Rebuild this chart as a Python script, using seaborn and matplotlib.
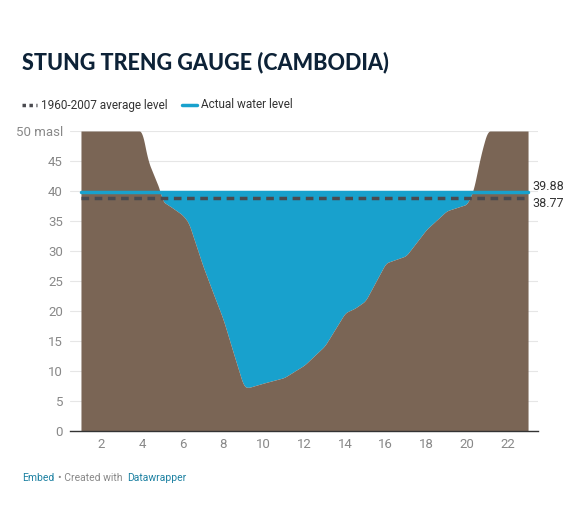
import matplotlib
matplotlib.use("Agg")
import matplotlib.pyplot as plt
import seaborn as sns
import numpy as np
import pandas as pd

distance = [1, 4.0, 4.3, 4.9, 5.0, 5.5, 6.0, 6.3, 7.0, 7.5, 8.0, 8.5, 9.0, 9.2, 10, 11, 12, 13, 14, 14.5, 15, 16, 17, 18, 19, 20, 20.3, 20.7, 21, 23]
bed_level = [50, 50, 45, 40, 38.3, 37.2, 36, 34.7, 27.5, 23, 18.6, 13, 7.5, 7.2, 8, 8.9, 11, 14.2, 19.7, 20.5, 21.7, 28, 29.2, 33.6, 36.7, 37.8, 40, 46.4, 50, 50]
actual_level = 39.88
average_level = 38.77

sns.set_theme(style="white")
plt.rcParams['font.family'] = ['Roboto', 'DejaVu Sans']

fig = plt.figure(figsize=(5.88, 5.18), dpi=100)
ax = fig.add_axes([70/588, (518-431)/518, (538-70)/588, 300/518])

x = np.linspace(1, 23, 600)
bed = np.interp(x, distance, bed_level)
k = 7
pad = np.pad(bed, k // 2, mode='edge')
bed = np.convolve(pad, np.ones(k) / k, mode='valid')

for yv in range(0, 51, 5):
    ax.axhline(yv, color='#e6e6e6', lw=0.8, zorder=0)

ax.fill_between(x, bed, actual_level, where=bed < actual_level, interpolate=True, color='#18a1cd', lw=0, zorder=1)
ax.fill_between(x, 0, bed, color='#7a6555', lw=0, zorder=2)

df = pd.DataFrame({'x': [1, 23], 'actual': [actual_level] * 2, 'avg': [average_level] * 2})
sns.lineplot(data=df, x='x', y='actual', ax=ax, color='#18a1cd', lw=2.5, zorder=3)
sns.lineplot(data=df, x='x', y='avg', ax=ax, color='#4a4a4f', lw=2.5, ls=(0, (2.2, 1.6)), zorder=4)

ax.set_xlim(0.46, 23.49)
ax.set_ylim(0, 50)
ax.set_xlabel('')
ax.set_ylabel('')
ax.set_xticks(range(2, 23, 2))
ax.set_yticks(range(0, 51, 5))
ax.set_yticklabels([str(v) if v < 50 else '50 masl' for v in range(0, 51, 5)])
ax.tick_params(axis='both', labelsize=9.5, colors='#888888', length=0, pad=5)
for s in ['top', 'right', 'left']:
    ax.spines[s].set_visible(False)
ax.spines['bottom'].set_color('#333333')
ax.spines['bottom'].set_linewidth(1)

ax.text(23.2, actual_level + 0.8, f'{actual_level:.2f}', fontsize=9, color='#333333', va='center')
ax.text(23.2, average_level - 0.9, f'{average_level:.2f}', fontsize=9, color='#333333', va='center')

fig.text(22/588, 1 - 62/518, 'STUNG TRENG GAUGE (CAMBODIA)', fontsize=15.5, fontweight='black',
         color='#0d2237', va='center', family=['Lato', 'DejaVu Sans'])
fig.lines.append(plt.Line2D([22/588, 37/588], [1 - 105/518] * 2, transform=fig.transFigure,
                            color='#4a4a4f', lw=2.5, ls=(0, (1.0, 1.0))))
fig.text(41/588, 1 - 105/518, '1960-2007 average level', fontsize=8.5, color='#333333', va='center')
fig.lines.append(plt.Line2D([182/588, 197/588], [1 - 105/518] * 2, transform=fig.transFigure,
                            color='#18a1cd', lw=2.5))
fig.text(201/588, 1 - 105/518, 'Actual water level', fontsize=8.5, color='#333333', va='center')

fig.text(22/588, 1 - 478/518, 'Embed', fontsize=7.5, color='#1d81a2', va='center')
fig.text(58/588, 1 - 478/518, '• Created with', fontsize=7.5, color='#888888', va='center')
fig.text(127/588, 1 - 478/518, 'Datawrapper', fontsize=7.5, color='#1d81a2', va='center')

fig.savefig('out.png', dpi=100, facecolor='white')
